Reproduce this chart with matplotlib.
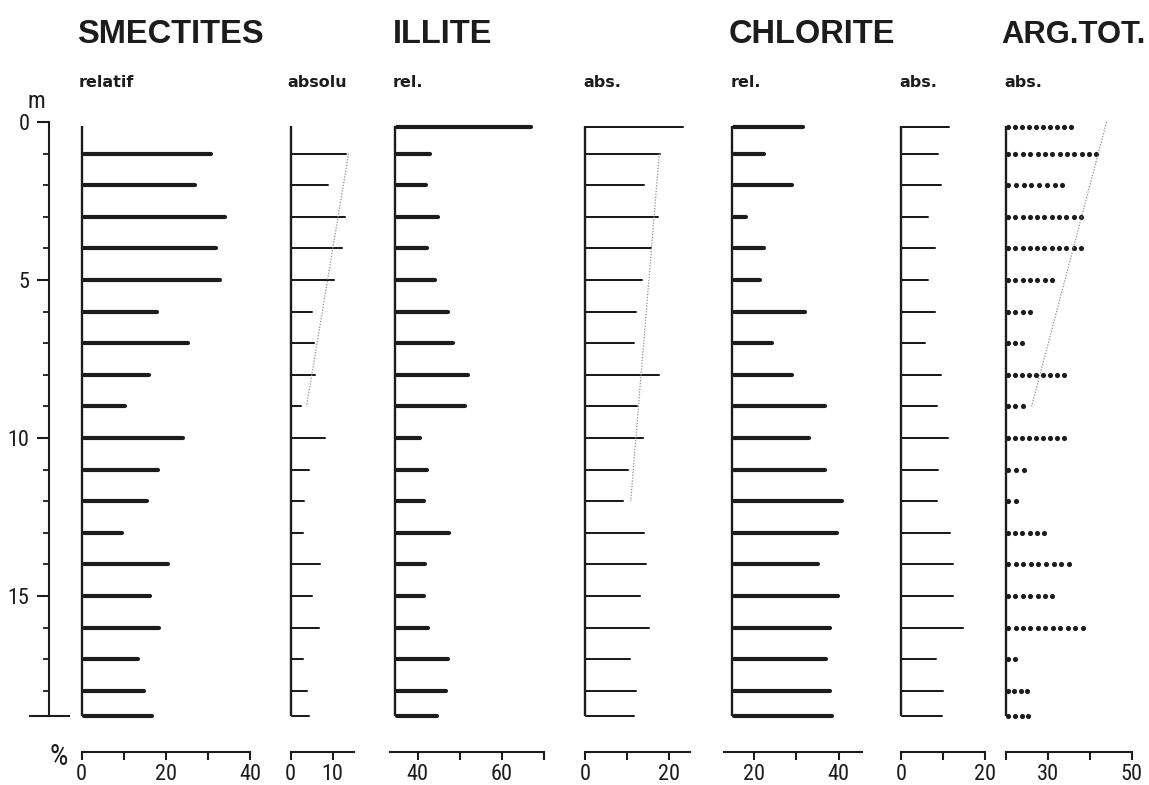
import numpy as np
import matplotlib
matplotlib.use("Agg")
import matplotlib.pyplot as plt
from matplotlib import font_manager as fm

# ---- sample depths (m) ----
depths = [0.15, 1, 2, 3, 4, 5, 6, 7, 8, 9, 10, 11, 12, 13, 14, 15, 16, 17, 18, 18.8]
nan = np.nan

# ---- clay fractions (%) ----
smectites_rel = [nan, 30.7, 26.9, 34.0, 31.9, 32.9, 18.0, 25.3, 16.1, 10.4,
                 24.1, 18.2, 15.4, 9.5, 20.4, 16.3, 18.3, 13.3, 14.7, 16.7]
smectites_abs = [nan, 13.3, 8.9, 13.0, 12.2, 10.3, 5.0, 5.7, 5.9, 2.4,
                 8.2, 4.3, 3.3, 2.9, 7.1, 5.2, 6.8, 2.9, 4.0, 4.5]
illite_rel = [66.8, 43.0, 42.0, 44.9, 42.3, 44.1, 47.3, 48.3, 52.0, 51.2,
              40.5, 42.3, 41.4, 47.4, 41.7, 41.4, 42.4, 47.2, 46.7, 44.6]
illite_abs = [23.3, 17.8, 13.9, 17.2, 15.7, 13.6, 12.0, 11.7, 17.6, 12.2,
              13.8, 10.2, 8.9, 14.0, 14.4, 12.9, 15.2, 10.6, 12.0, 11.5]
chlorite_rel = [31.6, 22.2, 29.0, 18.1, 22.3, 21.3, 32.1, 24.1, 29.0, 36.8,
                33.0, 36.9, 40.8, 39.7, 35.1, 39.8, 38.0, 37.0, 38.0, 38.4]
chlorite_abs = [11.3, 8.8, 9.4, 6.4, 8.0, 6.4, 8.1, 5.8, 9.4, 8.6,
                11.1, 8.7, 8.6, 11.7, 12.3, 12.4, 14.8, 8.3, 10.0, 9.8]
argiles_tot = [35.5, 41.6, 33.5, 37.9, 37.9, 31.0, 25.9, 23.9, 33.9, 24.1,
               33.9, 24.4, 22.5, 29.1, 35.0, 31.1, 38.3, 22.3, 25.1, 25.4]

# ---- trend lines (value, depth) ----
smectites_trend_val = [13.8, 3.8]
smectites_trend_depth = [1, 9]
illite_trend_val = [17.6, 10.8]
illite_trend_depth = [1, 12]
argiles_trend_val = [44.0, 26.2]
argiles_trend_depth = [0, 9]

# ---- texts ----
titles = ["SMECTITES", "ILLITE", "CHLORITE", "ARG.TOT."]
subtitles = ["relatif", "absolu", "rel.", "abs.", "rel.", "abs.", "abs."]
depth_ticks = [0, 5, 10, 15]

# ---- fonts ----
installed = {f.name for f in fm.fontManager.ttflist}


def first_installed(names):
    for n in names:
        if n in installed:
            return n
    return "DejaVu Sans"


NUM_FONT = first_installed(["Liberation Sans Narrow", "Roboto Condensed",
                            "Open Sans Condensed", "Roboto"])
TITLE_FONT = first_installed(["Liberation Sans", "Roboto"])
SUB_FONT = "DejaVu Sans"
INK = "#1c1c1c"

# ---- page geometry (pixels) ----
W, H, DPI = 1149, 785, 100
PX_PER_UNIT = 4.21
PX_PER_M = 31.6
Y_TOP = 122.0
Y_AXIS = 752.3
DEPTH_BOTTOM = (Y_AXIS - Y_TOP) / PX_PER_M

fig = plt.figure(figsize=(W / DPI, H / DPI), dpi=DPI)
fig.patch.set_facecolor("white")


def px_to_units(px):
    return px / PX_PER_UNIT


def add_panel(ref_val, ref_px, lo, hi):
    left_px = ref_px + (lo - ref_val) * PX_PER_UNIT
    width_px = (hi - lo) * PX_PER_UNIT
    ax = fig.add_axes([left_px / W, 1 - Y_AXIS / H, width_px / W,
                       (Y_AXIS - Y_TOP) / H])
    ax.set_xlim(lo, hi)
    ax.set_ylim(DEPTH_BOTTOM, 0)
    ax.patch.set_alpha(0)
    for s in ("top", "right", "left"):
        ax.spines[s].set_visible(False)
    ax.set_yticks([])
    return ax


def style_axis(ax, line_lo, line_hi, ticks, labelled):
    sp = ax.spines["bottom"]
    sp.set_bounds(line_lo, line_hi)
    sp.set_linewidth(1.5)
    sp.set_color(INK)
    ax.set_xticks(ticks)
    ax.set_xticklabels([str(t) if t in labelled else "" for t in ticks])
    ax.tick_params(axis="x", direction="out", length=5.5, width=1.5,
                   color=INK, pad=3, labelsize=16, labelcolor=INK)
    for lab in ax.get_xticklabels():
        lab.set_family(NUM_FONT)


def draw_stem(ax, base):
    ax.plot([base, base], [0.12, depths[-1]], color=INK, lw=1.7,
            solid_capstyle="butt", clip_on=False)


def draw_bars(ax, base, values, lw):
    r = px_to_units(lw * DPI / 72 / 2)
    for d, v in zip(depths, values):
        if np.isnan(v):
            continue
        ax.plot([base + r, v], [d, d], color=INK, lw=lw,
                solid_capstyle="round", clip_on=False)
    draw_stem(ax, base)


DOT_SIZE = 3.7            # marker diameter, points
DOT_STEP = 7.3            # centre-to-centre spacing, pixels


def draw_dots(ax, base, values):
    r = px_to_units(DOT_SIZE * DPI / 72 / 2)
    step = px_to_units(DOT_STEP)
    for d, v in zip(depths, values):
        start = base + r
        n = max(1, int(round((v - start) / step)) + 1)
        xs = np.linspace(start, v, n)
        ax.plot(xs, np.full(n, d), linestyle="none", marker="o",
                markersize=DOT_SIZE, color=INK, markeredgewidth=0,
                clip_on=False)
    draw_stem(ax, base)


def draw_trend(ax, vals, dps):
    ax.plot(vals, dps, color="#8f8f8f", lw=0.9, linestyle=(0, (1, 1.3)),
            clip_on=False)


THICK, THIN = 3.0, 1.45

# Smectites relative
ax1 = add_panel(0, 81.7, 0, 40)
draw_bars(ax1, 0, smectites_rel, THICK)
style_axis(ax1, 0, 40, [0, 10, 20, 30, 40], [0, 20, 40])

# Smectites absolute
ax2 = add_panel(0, 290.5, 0, 15)
draw_bars(ax2, 0, smectites_abs, THIN)
draw_trend(ax2, smectites_trend_val, smectites_trend_depth)
style_axis(ax2, 0, 15, [0, 10], [0, 10])

# Illite relative
ax3 = add_panel(40, 417.7, 33.4, 70)
draw_bars(ax3, 34.6, illite_rel, THICK)
style_axis(ax3, 33.4, 70, [40, 50, 60, 70], [40, 60])

# Illite absolute
ax4 = add_panel(0, 585.2, 0, 25)
draw_bars(ax4, 0, illite_abs, THIN)
draw_trend(ax4, illite_trend_val, illite_trend_depth)
style_axis(ax4, 0, 25, [0, 10, 20], [0, 20])

# Chlorite relative
ax5 = add_panel(20, 754.3, 12.8, 45.5)
draw_bars(ax5, 14.8, chlorite_rel, THICK)
style_axis(ax5, 12.8, 45.5, [20, 30, 40], [20, 40])

# Chlorite absolute
ax6 = add_panel(0, 901.0, 0, 20)
draw_bars(ax6, 0, chlorite_abs, THIN)
style_axis(ax6, 0, 20, [0, 10, 20], [0, 20])

# Total clay
ax7 = add_panel(20, 1005.5, 20, 50)
draw_dots(ax7, 20, argiles_tot)
draw_trend(ax7, argiles_trend_val, argiles_trend_depth)
style_axis(ax7, 20, 50, [20, 30, 40, 50], [30, 50])

# ---- depth scale ----
axd = fig.add_axes([0, 1 - Y_AXIS / H, 80 / W, (Y_AXIS - Y_TOP) / H])
axd.set_xlim(0, 80)
axd.set_ylim(DEPTH_BOTTOM, 0)
axd.patch.set_alpha(0)
for s in ("top", "right", "bottom"):
    axd.spines[s].set_visible(False)
axd.spines["left"].set_position(("data", 49))
axd.spines["left"].set_bounds(0, depths[-1])
axd.spines["left"].set_linewidth(1.5)
axd.spines["left"].set_color(INK)
axd.set_xticks([])
axd.set_yticks(depth_ticks)
axd.set_yticks(np.arange(0, 19), minor=True)
axd.set_yticklabels([str(t) for t in depth_ticks])
axd.tick_params(axis="y", which="major", length=8.5, width=1.5, color=INK,
                pad=5.5, labelsize=16, labelcolor=INK)
axd.tick_params(axis="y", which="minor", length=4.3, width=1.3, color=INK)
for lab in axd.get_yticklabels():
    lab.set_family(NUM_FONT)
axd.plot([29, 70], [depths[-1], depths[-1]], color=INK, lw=1.5,
         solid_capstyle="butt", clip_on=False)


def fig_text(x_px, y_px, s, **kw):
    fig.text(x_px / W, 1 - y_px / H, s, color=INK, **kw)


fig_text(36.5, 101, "m", family=NUM_FONT, fontsize=17, ha="center",
         va="center")
fig_text(59, 757, "%", family=NUM_FONT, fontsize=21, ha="center",
         va="center")

# ---- titles ----
title_x = [77, 393, 729, 1001]
title_size = [23.5, 23.5, 23.5, 22.3]
for x, t, fs in zip(title_x, titles, title_size):
    fig_text(x, 43, t, family=TITLE_FONT, fontweight="bold", fontsize=fs,
             ha="left", va="baseline")

sub_x = [79, 287, 393, 583, 731, 899, 1004]
for x, t in zip(sub_x, subtitles):
    fig_text(x, 87, t, family=SUB_FONT, fontweight="bold", fontsize=11.5,
             ha="left", va="baseline")

fig.savefig("out.png", dpi=DPI, facecolor="white")
